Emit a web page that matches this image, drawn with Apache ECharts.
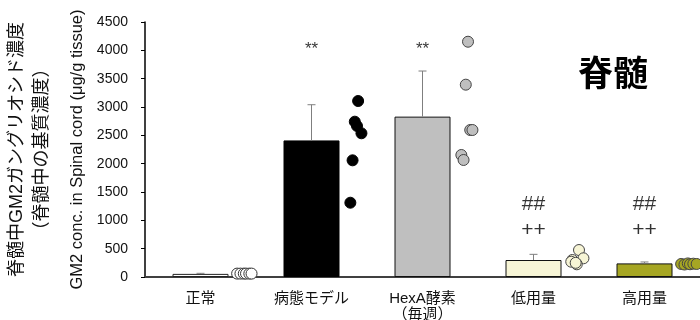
<!DOCTYPE html>
<html><head><meta charset="utf-8">
<script src="https://cdn.jsdelivr.net/npm/echarts@6/dist/echarts.min.js"></script>
<style>html,body{margin:0;padding:0;background:#fff}#c{width:700px;height:320px}</style>
</head><body><div id="c"></div>
<script>
var categories = ['正常', '病態モデル', 'HexA酵素\n（毎週）', '低用量', '高用量'];
var means = [55, 2410, 2830, 300, 240];
var sds = [10, 630, 805, 100, 25];
var yTicks = [0, 500, 1000, 1500, 2000, 2500, 3000, 3500, 4000, 4500];
var sigTop = ['', '**', '**', '##', '##'];
var sigBottom = ['', '', '', '++', '++'];
var dotsNormal = [60, 60, 60, 60, 60, 60];
var dotsModel = [3106, 2741, 2665, 2536, 2059, 1311];
var dotsHexA = [4152, 3394, 2594, 2594, 2153, 2065];
var dotsLow = [476, 330, 300, 224, 270, 250];
var dotsHigh = [230, 220, 240, 225, 235, 230];
var dotOffsets = [
  [0.33, 0.36, 0.39, 0.41, 0.44, 0.46],
  [0.42, 0.39, 0.41, 0.45, 0.37, 0.35],
  [0.41, 0.39, 0.43, 0.45, 0.35, 0.37],
  [0.41, 0.45, 0.35, 0.39, 0.34, 0.38],
  [0.33, 0.36, 0.39, 0.41, 0.44, 0.47]
];

var LAT = 'Liberation Sans, Noto Sans CJK JP';
var CJK = 'Noto Sans CJK JP';
var barFill = ['#ffffff', '#000000', '#bfbfbf', '#f7f5d6', '#a6a623'];
var barBorder = ['#222', '#000', '#111', '#111', '#111'];
var dotFill = ['#ffffff', '#000000', '#bfbfbf', '#f7f5d6', '#a6a623'];
var dotBorder = ['#333', '#000', '#444', '#444', '#444'];
var allDots = [dotsNormal, dotsModel, dotsHexA, dotsLow, dotsHigh];

var chart = echarts.init(document.getElementById('c'));
var dotSeries = allDots.map(function (arr, g) {
  return {
    type: 'scatter', xAxisIndex: 1, yAxisIndex: 0,
    symbol: 'circle', symbolSize: 11, clip: false,
    itemStyle: { color: dotFill[g], borderColor: dotBorder[g], borderWidth: 1, opacity: 1 },
    data: arr.map(function (v, k) { return [g + dotOffsets[g][k], v]; }),
    z: 5
  };
});

var topData = [], botData = [];
sigTop.forEach(function (t, i) { if (t) topData.push({ value: [i, t === '**' ? 4020 : 1290], name: t }); });
sigBottom.forEach(function (t, i) { if (t) botData.push({ value: [i, 820], name: t }); });

var option = {
  animation: false,
  grid: { left: 145, right: 0, top: 22, bottom: 43, containLabel: false, outerBoundsMode: 'none' },
  xAxis: [{
    type: 'category', data: categories,
    axisLine: { onZero: false, lineStyle: { color: '#404040', width: 2 } },
    axisTick: { show: false },
    axisLabel: { color: '#111', fontSize: 15, fontFamily: LAT, lineHeight: 16, margin: 14, interval: 0 }
  }, {
    type: 'value', min: -0.5, max: 4.5, show: false
  }],
  yAxis: [{
    type: 'value', min: yTicks[0], max: yTicks[yTicks.length - 1], interval: 500,
    axisLine: { show: true, onZero: false, lineStyle: { color: '#000', width: 1.5 } },
    axisTick: { show: true, inside: false, length: 4, lineStyle: { color: '#000' } },
    splitLine: { show: false },
    axisLabel: { color: '#111', fontSize: 14, fontFamily: LAT, margin: 17, formatter: function (v) { return String(v); } },
    name: 'GM2 conc. in Spinal cord (μg/g tissue)',
    nameLocation: 'middle', nameRotate: 90, nameGap: 58,
    nameTextStyle: { color: '#111', fontSize: 16.5, fontFamily: LAT }
  }, {
    type: 'value', min: 0, max: 4500, position: 'left',
    axisLine: { show: false, onZero: false }, axisTick: { show: false }, axisLabel: { show: false }, splitLine: { show: false },
    name: '脊髄中GM2ガングリオシド濃度\n（脊髄中の基質濃度）',
    nameLocation: 'middle', nameRotate: 90, nameGap: 90,
    nameTextStyle: { color: '#111', fontSize: 18, fontFamily: LAT, lineHeight: 25 }
  }],
  graphic: [{
    type: 'text', x: 613, y: 73,
    style: { text: '脊髄', fontSize: 35, fontWeight: 'bold', fontFamily: CJK, fill: '#000', textAlign: 'center', textVerticalAlign: 'middle' }
  }],
  series: [{
    type: 'bar', data: means.map(function (v, i) {
      return { value: v, itemStyle: { color: barFill[i], borderColor: barBorder[i], borderWidth: 1 } };
    }),
    barWidth: 56, z: 2
  }, {
    type: 'custom', z: 3,
    data: means.map(function (m, i) { return [i, m + sds[i], m]; }),
    renderItem: function (params, api) {
      var t = api.coord([api.value(0), api.value(1)]);
      var b = api.coord([api.value(0), api.value(2)]);
      return { type: 'group', children: [
        { type: 'line', shape: { x1: t[0], y1: t[1], x2: b[0], y2: b[1] }, style: { stroke: '#7f7f7f', lineWidth: 1 } },
        { type: 'line', shape: { x1: t[0] - 4, y1: t[1], x2: t[0] + 4, y2: t[1] }, style: { stroke: '#7f7f7f', lineWidth: 1 } }
      ] };
    }
  }, {
    type: 'scatter', symbolSize: 0, data: topData, z: 6,
    label: {
      show: true, position: 'inside', color: '#000',
      formatter: function (p) { return p.name === '**' ? '{s|**}' : '{h|' + p.name + '}'; },
      rich: { s: { fontSize: 17, fontFamily: LAT, color: '#000' }, h: { fontSize: 21, fontFamily: LAT, color: '#000' } }
    }
  }, {
    type: 'scatter', symbolSize: 0, data: botData, z: 6,
    label: { show: true, position: 'inside', formatter: function (p) { return p.name; }, color: '#000',
      fontFamily: LAT, fontSize: 21 }
  }].concat(dotSeries)
};
chart.setOption(option);
</script></body></html>
